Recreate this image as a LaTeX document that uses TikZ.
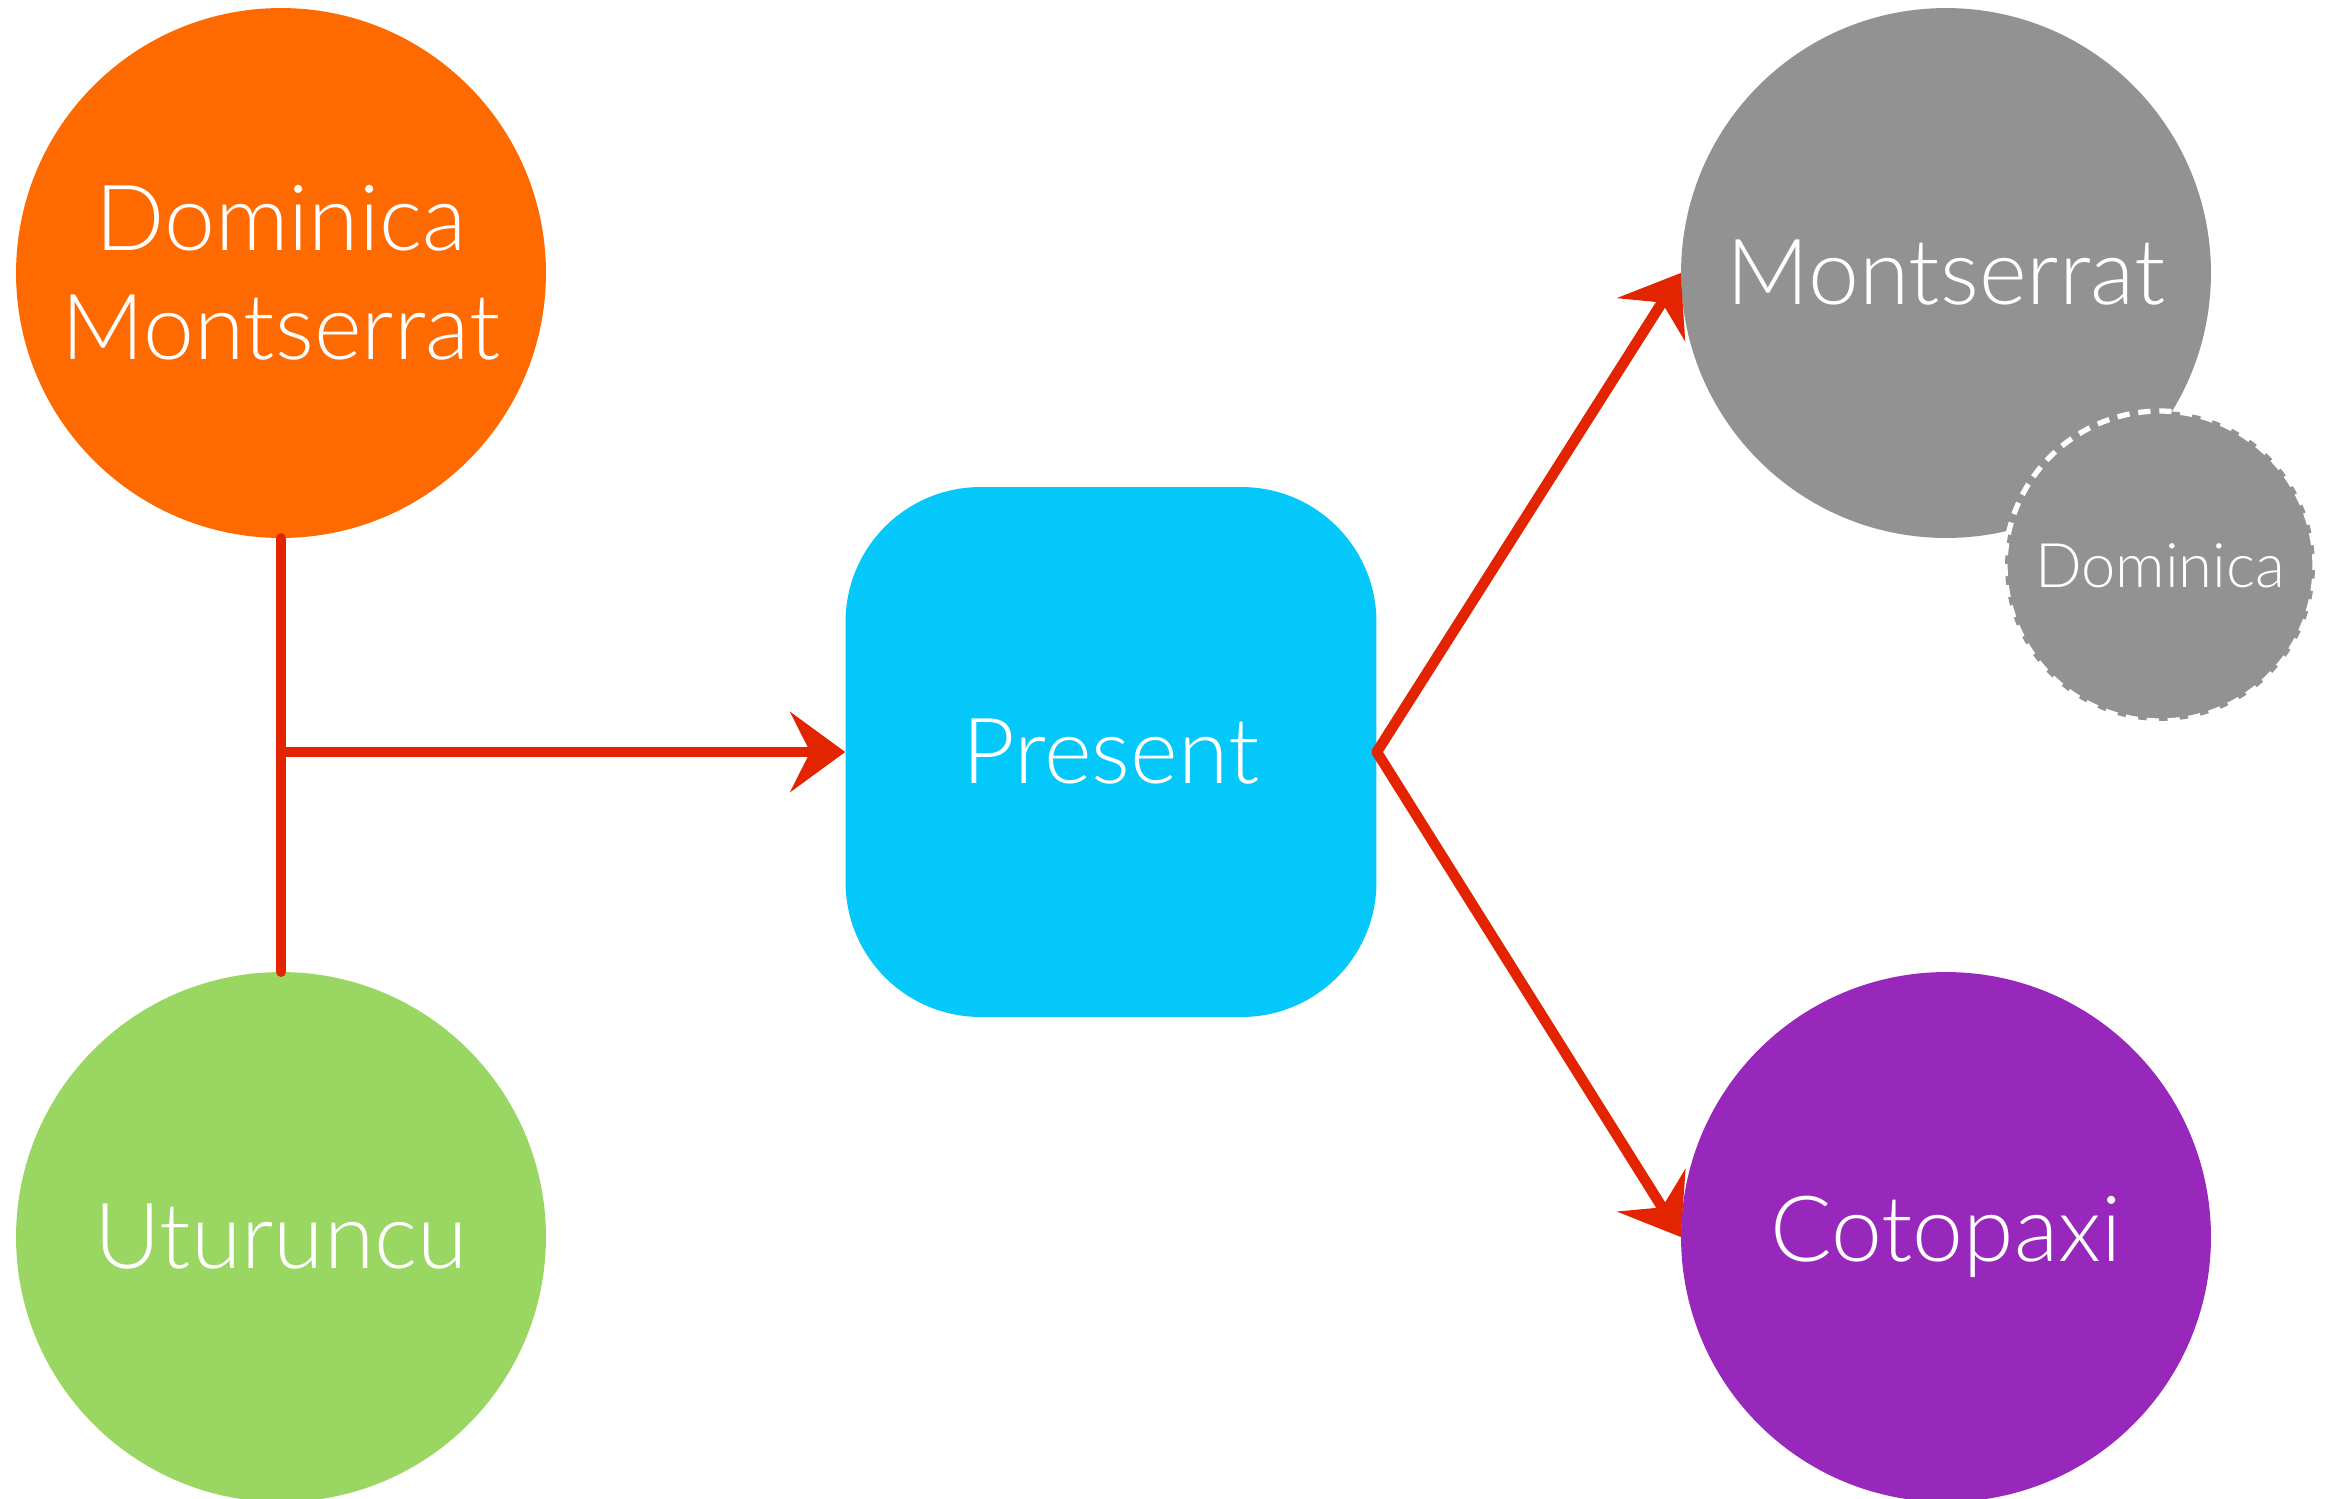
\documentclass[tikz,border=0pt]{standalone}
\usepackage{fontspec}
\setmainfont{Lato}[UprightFont=* Light]
\usetikzlibrary{arrows.meta,calc}
\definecolor{OrangeClr}{RGB}{255,106,0}
\definecolor{GreenClr}{RGB}{154,214,98}
\definecolor{BlueClr}{RGB}{4,199,250}
\definecolor{GrayClr}{RGB}{146,146,146}
\definecolor{PurpleClr}{RGB}{151,40,187}
\definecolor{RedClr}{RGB}{226,36,0}

\begin{document}
\begin{tikzpicture}[x=0.02cm,y=-0.02cm,
  ball/.style={circle,minimum size=10.6cm,inner sep=0pt,text=white,
    font=\fontsize{52}{62}\selectfont,align=center},
  smallball/.style={circle,minimum size=6.2cm,inner sep=0pt,text=white,
    fill=GrayClr,draw=white,line width=3pt,dash pattern=on 7pt off 5pt,
    font=\fontsize{35}{40}\selectfont},
  hub/.style={rectangle,rounded corners=2.7cm,minimum width=10.62cm,
    minimum height=10.6cm,inner sep=0pt,fill=BlueClr,text=white,
    font=\fontsize{52}{60}\selectfont},
  brush/.style={draw=RedClr,line width=6pt,line cap=round},
  tip/.style={brush,-{Stealth[length=1.1cm,width=1.6cm,inset=0.4cm]}}]

\useasboundingbox (0,0) rectangle (2331,1498);

\node[ball,fill=OrangeClr] (DomMon) at (281,273) {Dominica\\Montserrat};
\node[ball,fill=GreenClr] (Utu) at (281,1237) {Uturuncu};
\node[hub] (Pres) at (1111,752) {Present};
\node[ball,fill=GrayClr] (Mon) at (1946,273) {Montserrat};
\node[smallball] (Dom) at (2160,566) {Dominica};
\node[ball,fill=PurpleClr] (Coto) at (1946,1237) {Cotopaxi};

\coordinate (junc) at (DomMon.south |- Pres.west);

\draw[brush] (DomMon.south) -- (Utu.north);
\draw[tip] (junc) -- (Pres.west);
\draw[tip] (Pres.east) -- (Mon.west);
\draw[tip] (Pres.east) -- (Coto.west);

\end{tikzpicture}
\end{document}
